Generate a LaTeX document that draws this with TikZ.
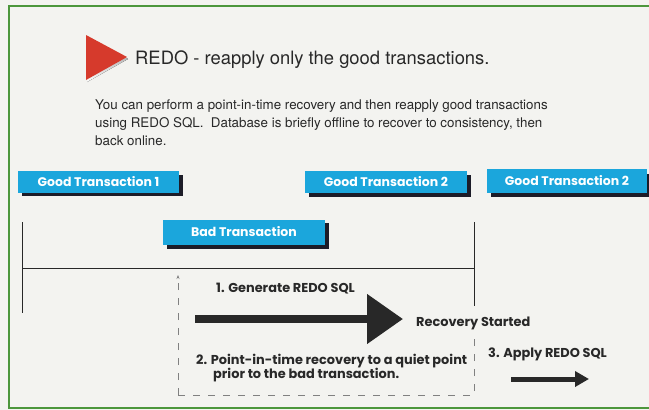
\documentclass[tikz,border=0pt]{standalone}
\usepackage{fontspec}
\setmainfont{TeX Gyre Heros}
\newfontfamily\futura{Poppins}
\usetikzlibrary{arrows.meta}
\definecolor{paper}{RGB}{243,243,240}
\definecolor{frame}{RGB}{76,150,60}
\definecolor{boxblue}{RGB}{27,166,220}
\definecolor{shade}{RGB}{28,28,40}
\definecolor{ink}{RGB}{40,40,40}
\definecolor{flag}{RGB}{214,58,44}
\tikzset{
  tbox/.style={fill=boxblue, text=white, font=\futura\bfseries\fontsize{12.5}{14}\selectfont,
    minimum height=22pt, inner sep=0pt},
  tshadow/.style={fill=shade},
  lbl/.style={text=ink, font=\futura\bfseries\fontsize{12.9}{14}\selectfont, inner sep=0pt},
  tline/.style={draw=ink, line width=0.8pt},
  dline/.style={draw=gray, line width=0.7pt, dash pattern=on 7pt off 8pt},
}
\begin{document}
\begin{tikzpicture}[x=1pt,y=-1pt]
\useasboundingbox (0,0) rectangle (649,410);
\clip (0,0) rectangle (649,410);
\fill[paper] (0,0) rectangle (649,410);
\draw[frame, line width=2pt] (9,6) rectangle (660,408);
\fill[shade] (87,38)--(128,59)--(87,82)--cycle;
\fill[flag] (86,35)--(127,57)--(86,80)--cycle;
\node[anchor=base west, text=ink, inner sep=0pt, font=\fontsize{18.4}{20}\selectfont] (title) at (135,64) {REDO - reapply only the good transactions.};
\node[anchor=base west, text=ink, align=left, inner sep=0pt, font=\fontsize{13.35}{18}\selectfont] (intro) at (95,145)
  {You can perform a point-in-time recovery and then reapply good transactions\\
   using REDO SQL.\ \ Database is briefly offline to recover to consistency, then\\
   back online.};
\fill[tshadow] (22,175) rectangle (183,196);
\node[tbox, minimum width=161pt] (good1) at (98.5,182) {Good Transaction 1};
\fill[tshadow] (309,175) rectangle (471,197);
\node[tbox, minimum width=162pt] (good2) at (386,182) {Good Transaction 2};
\fill[tshadow] (491,174) rectangle (653,197);
\node[tbox, minimum width=160pt, minimum height=24pt] (good3) at (567,181) {Good Transaction 2};
\fill[tshadow] (167,223) rectangle (329,249);
\node[tbox, minimum width=162pt, minimum height=25pt] (bad) at (244,232) {Bad Transaction};
\coordinate (lt) at (22,222);
\coordinate (lb) at (22,313);
\coordinate (tl) at (22,268);
\coordinate (tr) at (474,268);
\coordinate (rt) at (474,222);
\coordinate (rb) at (474,306);
\draw[tline] (lt) -- (lb);
\draw[tline] (tl) -- (tr);
\draw[tline] (rt) -- (rb);
\node[lbl, anchor=west] (gen) at (216,289) {1. Generate REDO SQL};
\coordinate (bigs) at (195,319);
\coordinate (bige) at (403,319);
\draw[ink, line width=8pt, -{Triangle[length=36pt,width=48pt]}] (bigs) -- (bige);
\node[lbl, anchor=west] (started) at (416,323) {Recovery Started};
\coordinate (qb) at (178,395);
\coordinate (qt) at (178,275);
\coordinate (qr) at (474,395);
\coordinate (qs) at (474,336);
\draw[dline, -{Stealth[length=4pt,width=3pt]}] (qb) -- (qt);
\draw[dline] (qb) -- (qr) -- (qs);
\node[lbl, anchor=west, align=left] (pit) at (196,368)
  {2. Point-in-time recovery to a quiet point\\\hspace*{17pt}prior to the bad transaction.};
\node[lbl, anchor=west] (apply) at (488,354) {3. Apply REDO SQL};
\coordinate (smalls) at (511,379);
\coordinate (smalle) at (589,379);
\draw[ink, line width=5pt, -{Triangle[length=14pt,width=15pt]}] (smalls) -- (smalle);
\end{tikzpicture}
\end{document}
